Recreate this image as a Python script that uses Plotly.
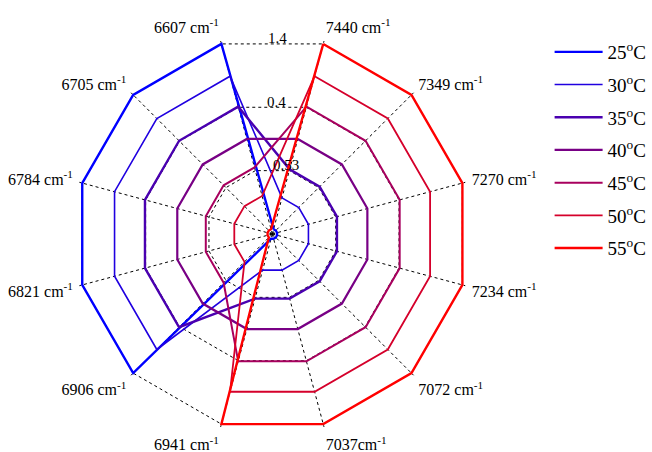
import plotly.graph_objects as go

# Axis categories, clockwise starting at the upper-right spoke
categories = ["7440 cm<sup>-1</sup>", "7349 cm<sup>-1</sup>", "7270 cm<sup>-1</sup>",
              "7234 cm<sup>-1</sup>", "7072 cm<sup>-1</sup>", "7037cm<sup>-1</sup>",
              "6941 cm<sup>-1</sup>", "6906 cm<sup>-1</sup>", "6821 cm<sup>-1</sup>",
              "6784 cm<sup>-1</sup>", "6705 cm<sup>-1</sup>", "6607 cm<sup>-1</sup>"]

series_names = ["25<sup>o</sup>C", "30<sup>o</sup>C", "35<sup>o</sup>C", "40<sup>o</sup>C",
                "45<sup>o</sup>C", "50<sup>o</sup>C", "55<sup>o</sup>C"]

# normalised radial values (0 = centre, 1 = outer ring)
t25 = [0.025, 0.025, 0.025, 0.025, 0.025, 0.025, 0.025, 1.00, 1.00, 1.00, 1.00, 1.00]
t30 = [0.19, 0.19, 0.19, 0.19, 0.19, 0.19, 0.19, 0.83, 0.83, 0.83, 0.83, 0.83]
t35 = [0.34, 0.34, 0.34, 0.34, 0.34, 0.34, 0.34, 0.67, 0.67, 0.67, 0.67, 0.67]
t40 = [0.50, 0.50, 0.50, 0.50, 0.50, 0.50, 0.50, 0.50, 0.50, 0.50, 0.50, 0.50]
t45 = [0.67, 0.67, 0.67, 0.67, 0.67, 0.67, 0.67, 0.35, 0.35, 0.35, 0.35, 0.35]
t50 = [0.83, 0.83, 0.83, 0.83, 0.83, 0.83, 0.83, 0.20, 0.20, 0.20, 0.20, 0.20]
t55 = [1.00, 1.00, 1.00, 1.00, 1.00, 1.00, 1.00, 0.025, 0.025, 0.025, 0.025, 0.025]
series_values = [t25, t30, t35, t40, t45, t50, t55]

colors = ["#0000ff", "#2000e0", "#4a00b0", "#780085", "#a8005e", "#d5002b", "#ff0000"]
widths = [2.4, 1.6, 2.4, 2.2, 2.0, 1.8, 2.4]

ring_labels = ["0.53", "0.4", "1.4"]

RMAX = 1.015
fig = go.Figure()
for name, vals, c, w in zip(series_names, series_values, colors, widths):
    fig.add_trace(go.Scatterpolar(
        r=vals + vals[:1], theta=categories + categories[:1],
        mode="lines", name=name, legendgroup=name, cliponaxis=False,
        line=dict(color=c, width=w)))

FONT = "Liberation Serif, Times New Roman, serif"
cx, cy, R = 274, 234, 198 * RMAX
fig.update_layout(
    width=652, height=452,
    margin=dict(l=0, r=0, t=0, b=0),
    paper_bgcolor="white", plot_bgcolor="white",
    font=dict(family=FONT, size=16, color="black"),
    polar=dict(
        domain=dict(x=[(cx - R)/652, (cx + R)/652], y=[1-(cy + R)/452, 1-(cy - R)/452]),
        bgcolor="white",
        gridshape="linear",
        angularaxis=dict(rotation=75, direction="clockwise", type="category",
                         categoryarray=categories,
                         showline=False, gridcolor="black", griddash="dot",
                         gridwidth=0.8, ticks="outside", ticklen=3,
                         tickcolor="rgba(0,0,0,0)",
                         tickfont=dict(family=FONT, size=16)),
        radialaxis=dict(range=[0, RMAX], tickvals=[1/3, 2/3, 1], showticklabels=False,
                        showline=False, ticks="", gridcolor="black", griddash="dot",
                        gridwidth=0.8),
    ),
    legend=dict(x=553/652, y=1-33/452, xanchor="left", yanchor="top",
                font=dict(family=FONT, size=19), itemwidth=48,
                tracegroupgap=5, bgcolor="rgba(0,0,0,0)"),
)

for txt, py, px in zip(ring_labels, [165, 102, 38], [288, 278, 279]):
    fig.add_annotation(x=px/652, y=1-py/452, xref="paper", yref="paper",
                       text=txt, showarrow=False, font=dict(family=FONT, size=15),
                       xanchor="center", yanchor="middle")

fig.write_html("out.html", config={"displayModeBar": False},
               post_script="document.body.style.margin='0px';document.body.style.overflow='hidden';")
